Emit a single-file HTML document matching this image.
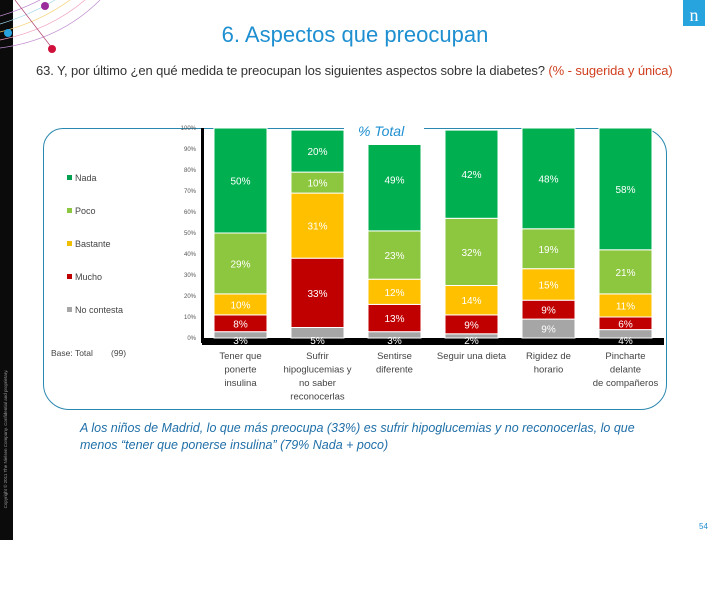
<!DOCTYPE html>
<html><head><meta charset="utf-8"><style>
body{margin:0;width:720px;height:540px;overflow:hidden;background:#fff;font-family:"Liberation Sans",sans-serif;position:relative}
.abs{position:absolute}
</style></head><body>
<div class="abs" style="left:0;top:0;width:13px;height:540px;background:#0b0b0b"></div>
<div class="abs" style="left:-149px;top:435px;width:310px;height:8px;line-height:8px;font-size:4.5px;color:#999;text-align:center;transform:rotate(-90deg);transform-origin:center;white-space:nowrap">Copyright © 2011 The Nielsen Company. Confidential and proprietary.</div>
<svg class="abs" style="left:0;top:0" width="110" height="55">
<g fill="none" stroke-width="0.7">
<path d="M0,48 Q60,40 100,0" stroke="#c08bd0"/><path d="M0,40 Q50,30 85,0" stroke="#f0a0c0"/><path d="M0,32 Q40,22 70,0" stroke="#f5d070"/><path d="M0,24 Q30,15 55,0" stroke="#9fd5e8"/><path d="M0,16 Q20,10 40,0" stroke="#c08bd0"/><path d="M15,0 L52,48" stroke="#b04070"/></g>
<circle cx="45" cy="6" r="4" fill="#9b2c9b"/><circle cx="8" cy="33" r="4" fill="#27a3dd"/><circle cx="52" cy="49" r="4" fill="#d0103a"/></svg>
<div class="abs" style="left:683px;top:0;width:22px;height:26px;background:#27a3dd;color:#fff;font:18px 'Liberation Serif',serif;text-align:center;line-height:30px">n</div>
<div class="abs" style="left:0;width:720px;top:22px;text-align:center;font-size:22px;color:#1e8fd0"><span style="margin-left:-10px">6. Aspectos que preocupan</span></div>
<div class="abs" style="left:36px;top:63px;font-size:13px;color:#333;white-space:nowrap;letter-spacing:-0.1px">63. Y, por último ¿en qué medida te preocupan los siguientes aspectos sobre la diabetes? <span style="color:#d04020">(% - sugerida y única)</span></div>
<div class="abs" style="left:43px;top:128px;width:622px;height:280px;border:1px solid #2a88b0;border-radius:26px;border-top-left-radius:20px"></div>
<svg id="chart" class="abs" style="left:0;top:0" width="720" height="540"></svg>
<div class="abs" style="left:80px;top:420px;width:585px;font-size:12.5px;font-style:italic;color:#1f6fa8;line-height:17px">A los niños de Madrid, lo que más preocupa (33%) es sufrir hipoglucemias y no reconocerlas, lo que menos “tener que ponerse insulina” (79% Nada + poco)</div>
<div class="abs" style="left:699px;top:522px;font-size:8px;color:#1e8fd0">54</div>
<script>
const categories=[["Tener que","ponerte","insulina"],["Sufrir","hipoglucemias y","no saber","reconocerlas"],["Sentirse","diferente"],["Seguir una dieta"],["Rigidez de","horario"],["Pincharte","delante","de compañeros"]];
const series=["No contesta","Mucho","Bastante","Poco","Nada"];
const colors=["#a6a6a6","#c00000","#ffc000","#8dc63f","#00b050"];
const noContesta=[3,5,3,2,9,4];
const mucho=[8,33,13,9,9,6];
const bastante=[10,31,12,14,15,11];
const poco=[29,10,23,32,19,21];
const nada=[50,20,49,42,48,58];
const ticks=[0,10,20,30,40,50,60,70,80,90,100];
const svg=document.getElementById('chart');const NS='http://www.w3.org/2000/svg';
const y0=338,y100=128;const y=v=>y0-(y0-y100)*v/100;
const x=i=>214+i*77;const bw=53;
function mk(t,a){const e=document.createElementNS(NS,t);for(const k in a)e.setAttribute(k,a[k]);svg.appendChild(e);return e;}
const vals=[noContesta,mucho,bastante,poco,nada];
ticks.forEach(t=>{const e=mk('text',{x:196,y:y(t)+2,'font-size':6,fill:'#555','text-anchor':'end'});e.textContent=t+'%';

});
const ax=mk('rect',{x:202,y:338,width:462,height:7,fill:'#000'});
const ay=mk('rect',{x:201,y:128,width:3,height:215,fill:'#000'});
categories.forEach((c,i)=>{let acc=0;vals.forEach((s,j)=>{const v=s[i];const r=mk('rect',{x:x(i),y:y(acc+v),width:bw,height:y(acc)-y(acc+v),fill:colors[j],stroke:'#fff','stroke-width':1});


let ty=(y(acc)+y(acc+v))/2+4;if(j===0&&v<6)ty=y0+6;
const t=mk('text',{x:x(i)+bw/2,y:ty,'font-size':10,fill:'#fff','text-anchor':'middle'});t.textContent=v+'%';


acc+=v;});
c.forEach((l,k)=>{const t=mk('text',{x:x(i)+bw/2,y:359+k*13.5,'font-size':9.5,fill:'#444','text-anchor':'middle'});t.textContent=l;

});});
const wb=mk('rect',{x:344,y:114,width:80,height:31,fill:'#fff'});
const tt=mk('text',{x:358,y:136,'font-size':14,'font-style':'italic',fill:'#1e8fd0'});tt.textContent='% Total';
const leg=["Nada","Poco","Bastante","Mucho","No contesta"],lc=["#00a050","#8dc63f","#f0c000","#c00000","#a6a6a6"];
leg.forEach((n,k)=>{const yy=181+k*33;const r=mk('rect',{x:67,y:yy-6,width:5,height:5,fill:lc[k]});
const t=mk('text',{x:75,y:yy,'font-size':9,fill:'#444'});t.textContent=n;});
const b=mk('text',{x:51,y:356,'font-size':8.5,fill:'#444'});b.textContent='Base: Total';
const b2=mk('text',{x:111,y:356,'font-size':8.5,fill:'#444'});b2.textContent='(99)';
</script>
</body></html>
